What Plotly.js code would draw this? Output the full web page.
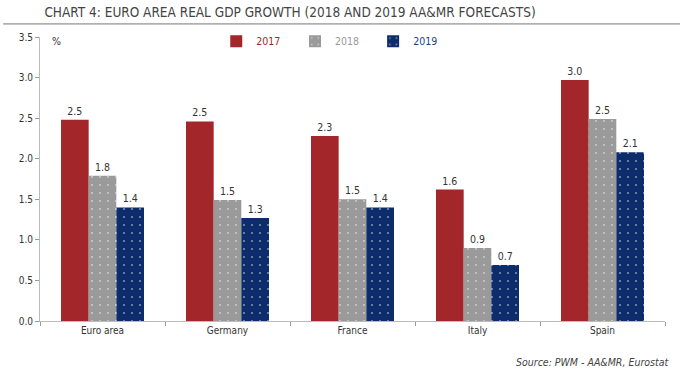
<!DOCTYPE html>
<html>
<head>
<meta charset="utf-8">
<script src="https://cdn.plot.ly/plotly-3.0.1.min.js"></script>
<style>
html,body{margin:0;padding:0;background:#fff;}
#chart{width:680px;height:379px;}
</style>
</head>
<body>
<div id="chart"></div>
<script>
const categories = ["Euro area", "Germany", "France", "Italy", "Spain"];
const seriesNames = ["2017", "2018", "2019"];
const values2017 = [2.48, 2.46, 2.28, 1.62, 2.97];
const values2018 = [1.79, 1.49, 1.50, 0.90, 2.49];
const values2019 = [1.40, 1.27, 1.40, 0.69, 2.08];
const yTickVals = [0, 0.5, 1, 1.5, 2, 2.5, 3, 3.5];

const FONT = '"Liberation Sans Narrow", "DejaVu Sans Condensed", "Arial Narrow", sans-serif';
const colors = ["#A3262A", "#9A9A9A", "#0C2C6C"];
const textColors = ["#A3262A", "#9A9A9A", "#1F3F7A"];
const allValues = [values2017, values2018, values2019];
const legendIds = ["legend", "legend2", "legend3"];

const traces = allValues.map((vals, i) => {
  const t = {
    type: "bar",
    name: seriesNames[i],
    x: categories,
    y: vals,
    texttemplate: "%{y:.1f}",
    textposition: "outside",
    cliponaxis: false,
    textfont: {family: FONT, size: 10.5, color: "#333"},
    marker: {color: colors[i], line: {width: 0}},
    legend: legendIds[i],
    hoverinfo: "skip"
  };
  if (i > 0) {
    t.marker.pattern = {shape: ".", fgcolor: "#ffffff", bgcolor: colors[i], size: 8, solidity: 0.05, fillmode: "overlay"};
  }
  return t;
});

const legendBase = (x, c) => ({
  x: x, y: 0.985, xanchor: "left", yanchor: "middle",
  orientation: "h", bgcolor: "rgba(0,0,0,0)",
  font: {family: FONT, size: 10.5, color: c},
  itemwidth: 30, tracegroupgap: 0
});

const layout = {
  width: 680, height: 379,
  margin: {l: 40, r: 15, t: 37, b: 58},
  paper_bgcolor: "#fff", plot_bgcolor: "#fff",
  font: {family: FONT, size: 10, color: "#333"},
  barmode: "group",
  bargap: 0.336,
  bargroupgap: 0,
  showlegend: true,
  legend: legendBase(0.282, textColors[0]),
  legend2: legendBase(0.408, textColors[1]),
  legend3: legendBase(0.533, textColors[2]),
  xaxis: {
    type: "category",
    showgrid: false, zeroline: false,
    showline: true, linecolor: "#BBBBBB", linewidth: 1,
    ticks: "outside", tickson: "boundaries", ticklen: 4, tickcolor: "#999",
    tickfont: {family: FONT, size: 10, color: "#333"},
    fixedrange: true
  },
  yaxis: {
    range: [0, 3.5],
    tickvals: yTickVals,
    ticktext: yTickVals.map(v => v.toFixed(1)),
    showgrid: false, zeroline: false,
    showline: true, linecolor: "#BBBBBB", linewidth: 1,
    ticks: "outside", ticklen: 4, tickcolor: "#999",
    tickfont: {family: FONT, size: 10, color: "#333"},
    fixedrange: true
  },
  title: {
    text: "CHART 4: EURO AREA REAL GDP GROWTH (2018 AND 2019 AA&amp;MR FORECASTS)",
    x: 0.007, xanchor: "left", xref: "paper",
    y: 0.968, yanchor: "middle", yref: "container",
    font: {family: FONT, size: 13.5, color: "#444"}
  },
  shapes: [
    {type: "line", xref: "paper", yref: "paper", x0: -0.059, x1: 1.024, y0: 1.046, y1: 1.046,
     line: {color: "#777", width: 1}}
  ],
  annotations: [
    {text: "%", xref: "paper", yref: "paper", x: 0.016, y: 0.985, xanchor: "left", yanchor: "middle",
     showarrow: false, font: {family: FONT, size: 10.5, color: "#333"}},
    {text: "<i>Source: PWM - AA&amp;MR, Eurostat</i>", xref: "paper", yref: "paper", x: 1.008, y: -0.145,
     xanchor: "right", yanchor: "middle", showarrow: false, font: {family: FONT, size: 10.5, color: "#444"}}
  ]
};

Plotly.newPlot("chart", traces, layout, {displayModeBar: false, staticPlot: true});
</script>
</body>
</html>
